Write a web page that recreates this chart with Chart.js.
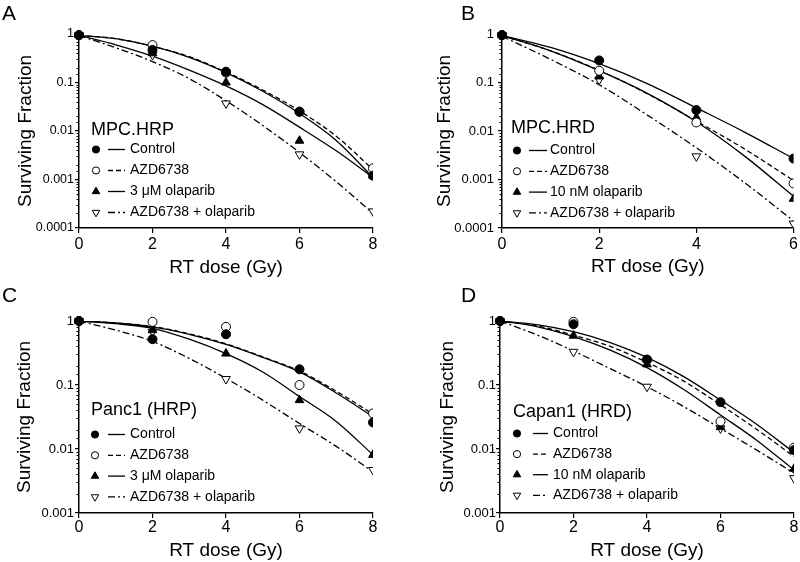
<!DOCTYPE html>
<html>
<head>
<meta charset="utf-8">
<script src="https://cdn.jsdelivr.net/npm/chart.js@4.4.1/dist/chart.umd.min.js"></script>
<style>
  html, body { margin: 0; padding: 0; background: #fff; }
  #wrap { position: relative; width: 800px; height: 562px; overflow: hidden; font-family: "Liberation Sans", Arial, sans-serif; }
  canvas { position: absolute; }
  .tag { position: absolute; font-size: 21px; line-height: 21px; color: #000; }
</style>
</head>
<body>
<div id="wrap">
  <canvas id="chartA" width="400" height="280" style="left:0;top:0"></canvas>
  <canvas id="chartB" width="400" height="280" style="left:400px;top:0"></canvas>
  <canvas id="chartC" width="400" height="282" style="left:0;top:280px"></canvas>
  <canvas id="chartD" width="400" height="282" style="left:400px;top:280px"></canvas>
  <div class="tag" style="left:2px;top:2px">A</div>
  <div class="tag" style="left:461px;top:2px">B</div>
  <div class="tag" style="left:2px;top:284px">C</div>
  <div class="tag" style="left:461px;top:284px">D</div>
</div>
<script>
// RT doses of the measured points and of the fitted curves
var dosePts = [0, 2, 4, 6, 8];
var dosePtsB = [0, 2, 4, 6];
var doseFit = [0, 1, 2, 3, 4, 5, 6, 7, 8];
var doseFitB = [0, 1, 2, 3, 4, 5, 6];

// x tick labels
var xTicks8 = [0, 2, 4, 6, 8];
var xTicks6 = [0, 2, 4, 6];

// y tick labels (decades, bottom to top)
var yLabels4 = ['0.0001', '0.001', '0.01', '0.1', '1'];
var yLabels3 = ['0.001', '0.01', '0.1', '1'];

// legend text
var namesA = ['Control', 'AZD6738', '3 \u03bcM olaparib', 'AZD6738 + olaparib'];
var namesB = ['Control', 'AZD6738', '10 nM olaparib', 'AZD6738 + olaparib'];
var namesC = ['Control', 'AZD6738', '3 \u03bcM olaparib', 'AZD6738 + olaparib'];
var namesD = ['Control', 'AZD6738', '10 nM olaparib', 'AZD6738 + olaparib'];

// A - MPC.HRP
var aCtrlPts = [0.95, 0.47, 0.167, 0.025, 0.0012];
var aAzdPts = [0.95, 0.59, 0.16, 0.025, 0.0017];
var aOlaPts = [0.95, 0.40, 0.10, 0.0063, 0.0012];
var aComboPts = [0.95, 0.37, 0.037, 0.0033, 0.00022];
var aCtrlFit = [0.94, 0.80, 0.56, 0.33, 0.16, 0.066, 0.023, 0.0064, 0.0011];
var aAzdFit = [0.94, 0.80, 0.56, 0.34, 0.165, 0.07, 0.026, 0.0078, 0.0016];
var aOlaFit = [0.94, 0.60, 0.35, 0.18, 0.085, 0.035, 0.012, 0.0039, 0.0011];
var aComboFit = [0.93, 0.52, 0.27, 0.12, 0.042, 0.013, 0.0036, 0.0009, 0.0002];

// B - MPC.HRD
var bCtrlPts = [0.95, 0.285, 0.027, 0.0027];
var bAzdPts = [0.95, 0.175, 0.015, 0.00083];
var bOlaPts = [0.95, 0.133, 0.019, 0.0004];
var bComboPts = [0.95, 0.114, 0.003, 0.000123];
var bCtrlFit = [0.93, 0.53, 0.245, 0.094, 0.03, 0.0094, 0.0027];
var bAzdFit = [0.93, 0.45, 0.178, 0.058, 0.016, 0.0042, 0.00095];
var bOlaFit = [0.93, 0.45, 0.175, 0.059, 0.0155, 0.003, 0.00045];
var bComboFit = [0.9, 0.30, 0.09, 0.021, 0.0045, 0.00085, 0.00014];

// C - Panc1 (HRP)
var cCtrlPts = [1.0, 0.52, 0.62, 0.176, 0.026];
var cAzdPts = [1.0, 0.97, 0.81, 0.10, 0.036];
var cOlaPts = [1.0, 0.72, 0.31, 0.058, 0.0081];
var cComboPts = [1.0, 0.68, 0.124, 0.021, 0.0047];
var cCtrlFit = [1.0, 0.93, 0.81, 0.62, 0.43, 0.27, 0.16, 0.075, 0.032];
var cAzdFit = [1.0, 0.93, 0.82, 0.63, 0.44, 0.275, 0.165, 0.08, 0.035];
var cOlaFit = [1.0, 0.91, 0.77, 0.52, 0.31, 0.16, 0.066, 0.027, 0.0081];
var cComboFit = [1.0, 0.72, 0.48, 0.26, 0.127, 0.058, 0.025, 0.011, 0.0044];

// D - Capan1 (HRD)
var dCtrlPts = [1.0, 0.89, 0.25, 0.054, 0.0096];
var dAzdPts = [1.0, 0.97, 0.245, 0.027, 0.0105];
var dOlaPts = [1.0, 0.59, 0.21, 0.022, 0.0049];
var dComboPts = [1.0, 0.33, 0.094, 0.021, 0.0035];
var dCtrlFit = [1.0, 0.88, 0.68, 0.46, 0.27, 0.135, 0.058, 0.024, 0.0088];
var dAzdFit = [1.0, 0.84, 0.60, 0.40, 0.226, 0.115, 0.049, 0.02, 0.0076];
var dOlaFit = [1.0, 0.82, 0.57, 0.35, 0.187, 0.085, 0.034, 0.0135, 0.0047];
var dComboFit = [1.0, 0.61, 0.34, 0.18, 0.094, 0.046, 0.021, 0.0095, 0.0042];

var FONT = '"Liberation Sans", Arial, sans-serif';
Chart.defaults.color = '#000';
Chart.defaults.font.family = FONT;

var markerStyles = [
  { pointStyle: 'circle', rotation: 0, fill: '#000', radius: 4.5 },
  { pointStyle: 'circle', rotation: 0, fill: '#fff', radius: 4.5 },
  { pointStyle: 'triangle', rotation: 0, fill: '#000', radius: 5 },
  { pointStyle: 'triangle', rotation: 180, fill: '#fff', radius: 5 }
];
var lineDashes = [[], [5, 3], [], [7, 3, 2, 3]];

function xy(xs, ys) {
  return xs.map(function (x, i) { return { x: x, y: ys[i] }; });
}

function isDecade(v) {
  var l = Math.log10(v);
  return Math.abs(l - Math.round(l)) < 1e-6;
}

// draws the little marker in the legend
function legendMarker(ctx, m, x, y) {
  ctx.save();
  ctx.fillStyle = m.fill;
  ctx.strokeStyle = '#000';
  ctx.lineWidth = 1;
  ctx.beginPath();
  if (m.pointStyle === 'circle') {
    ctx.arc(x, y, 3.6, 0, Math.PI * 2);
  } else {
    var r = 4.3, s = m.rotation === 180 ? -1 : 1;
    ctx.moveTo(x, y - s * r);
    ctx.lineTo(x + r * 0.866, y + s * r * 0.5);
    ctx.lineTo(x - r * 0.866, y + s * r * 0.5);
    ctx.closePath();
  }
  ctx.fill();
  ctx.stroke();
  ctx.restore();
}

var decorPlugin = {
  id: 'decor',
  afterDraw: function (chart, args, o) {
    var ctx = chart.ctx;
    var ys = chart.scales.y;
    var left = chart.chartArea.left;
    // minor ticks on the log axis
    ctx.save();
    ctx.strokeStyle = '#000';
    ctx.lineWidth = 1;
    ys.ticks.forEach(function (t) {
      if (isDecade(t.value)) return;
      var py = Math.round(ys.getPixelForValue(t.value)) + 0.5;
      ctx.beginPath();
      ctx.moveTo(left - 2.5, py);
      ctx.lineTo(left, py);
      ctx.stroke();
    });
    // legend block
    ctx.fillStyle = '#000';
    ctx.textBaseline = 'middle';
    ctx.textAlign = 'left';
    ctx.font = '18px ' + FONT;
    ctx.fillText(o.title, o.titleX, o.titleY);
    ctx.font = '14px ' + FONT;
    for (var i = 0; i < 4; i++) {
      var y = o.rowY + i * o.rowGap;
      var fit = chart.data.datasets[i + 4];
      ctx.beginPath();
      ctx.setLineDash(fit.borderDash);
      ctx.lineWidth = 1.3;
      ctx.moveTo(o.lineX1, y);
      ctx.lineTo(o.lineX2, y);
      ctx.stroke();
      ctx.setLineDash([]);
      legendMarker(ctx, markerStyles[i], o.markerX, y);
      ctx.fillText(o.names[i], o.textX, y);
    }
    ctx.restore();
  }
};

function makeChart(id, p) {
  var sets = [];
  for (var i = 0; i < 4; i++) {
    var m = markerStyles[i];
    sets.push({
      label: p.names[i],
      data: xy(p.dosePts, p.pts[i]),
      showLine: false,
      pointStyle: m.pointStyle,
      rotation: m.rotation,
      pointRadius: m.radius,
      pointBackgroundColor: m.fill,
      pointBorderColor: '#000',
      pointBorderWidth: 1,
      clip: { left: 10, top: 10, right: 0, bottom: 10 }
    });
  }
  for (var j = 0; j < 4; j++) {
    sets.push({
      label: p.names[j] + ' fit',
      data: xy(p.doseFit, p.fits[j]),
      showLine: true,
      pointRadius: 0,
      borderColor: '#000',
      borderWidth: 1.3,
      borderDash: lineDashes[j],
      cubicInterpolationMode: 'monotone',
      fill: false
    });
  }
  var minExp = -p.yLabels.length + 1;
  return new Chart(document.getElementById(id), {
    type: 'scatter',
    data: { datasets: sets },
    plugins: [decorPlugin],
    options: {
      responsive: false,
      animation: false,
      devicePixelRatio: 1,
      events: [],
      layout: { padding: { left: 0, top: p.padTop, right: p.padRight, bottom: 0 } },
      plugins: {
        legend: { display: false },
        tooltip: { enabled: false },
        decor: p.legend
      },
      scales: {
        x: {
          type: 'linear',
          min: 0,
          max: p.xTicks[p.xTicks.length - 1],
          afterBuildTicks: function (s) { s.ticks = p.xTicks.map(function (v) { return { value: v }; }); },
          afterFit: function (s) { s.height = p.xAxisH; },
          grid: { display: true, drawOnChartArea: false, drawTicks: true, tickLength: 5, color: '#000', lineWidth: 1.2 },
          border: { display: true, color: '#000', width: 1.5 },
          ticks: { font: { size: 16 }, padding: p.xPad, maxRotation: 0, autoSkip: false },
          title: { display: true, text: 'RT dose (Gy)', font: { size: 19 }, padding: { top: 0, bottom: p.xTitlePad } }
        },
        y: {
          type: 'logarithmic',
          min: Math.pow(10, minExp),
          max: 1,
          afterFit: function (s) { s.width = p.yAxisW; },
          grid: {
            display: true, drawOnChartArea: false, drawTicks: true, tickLength: 4, lineWidth: 1.2,
            tickColor: function (c) { return c.tick && isDecade(c.tick.value) ? '#000' : 'rgba(0,0,0,0)'; }
          },
          border: { display: true, color: '#000', width: 1.5 },
          ticks: {
            autoSkip: false,
            font: { size: p.yFont },
            padding: p.yPad,
            callback: function (v) {
              if (!isDecade(v)) return '';
              return p.yLabels[Math.round(Math.log10(v)) - minExp];
            }
          },
          title: { display: true, text: 'Surviving Fraction', font: { size: 19 }, padding: { top: p.yTitlePad, bottom: 0 } }
        }
      }
    }
  });
}

makeChart('chartA', {
  names: namesA, dosePts: dosePts, doseFit: doseFit, xTicks: xTicks8, yLabels: yLabels4,
  pts: [aCtrlPts, aAzdPts, aOlaPts, aComboPts],
  fits: [aCtrlFit, aAzdFit, aOlaFit, aComboFit],
  padTop: 34, padRight: 27, yAxisW: 79, xAxisH: 52, xPad: 2, xTitlePad: 1, yFont: 12.5, yPad: 1, yTitlePad: 14,
  legend: { title: 'MPC.HRP', names: namesA, titleX: 91, titleY: 130, rowY: 149.5, rowGap: 21, markerX: 96, lineX1: 108, lineX2: 125, textX: 130 }
});

makeChart('chartB', {
  names: namesB, dosePts: dosePtsB, doseFit: doseFitB, xTicks: xTicks6, yLabels: yLabels4,
  pts: [bCtrlPts, bAzdPts, bOlaPts, bComboPts],
  fits: [bCtrlFit, bAzdFit, bOlaFit, bComboFit],
  padTop: 34, padRight: 5, yAxisW: 102, xAxisH: 52, xPad: 2, xTitlePad: 2, yFont: 13, yPad: 4, yTitlePad: 33,
  legend: { title: 'MPC.HRD', names: namesB, titleX: 111, titleY: 128, rowY: 150.5, rowGap: 20.8, markerX: 117, lineX1: 129, lineX2: 147, textX: 150 }
});

makeChart('chartC', {
  names: namesC, dosePts: dosePts, doseFit: doseFit, xTicks: xTicks8, yLabels: yLabels3,
  pts: [cCtrlPts, cAzdPts, cOlaPts, cComboPts],
  fits: [cCtrlFit, cAzdFit, cOlaFit, cComboFit],
  padTop: 41, padRight: 27, yAxisW: 79, xAxisH: 49, xPad: 0, xTitlePad: 0, yFont: 13, yPad: 1, yTitlePad: 13,
  legend: { title: 'Panc1 (HRP)', names: namesC, titleX: 91, titleY: 130, rowY: 154.5, rowGap: 20.8, markerX: 95, lineX1: 108, lineX2: 125, textX: 130 }
});

makeChart('chartD', {
  names: namesD, dosePts: dosePts, doseFit: doseFit, xTicks: xTicks8, yLabels: yLabels3,
  pts: [dCtrlPts, dAzdPts, dOlaPts, dComboPts],
  fits: [dCtrlFit, dAzdFit, dOlaFit, dComboFit],
  padTop: 41, padRight: 4, yAxisW: 100, xAxisH: 49, xPad: 0, xTitlePad: 0, yFont: 13, yPad: 0, yTitlePad: 36,
  legend: { title: 'Capan1 (HRD)', names: namesD, titleX: 113, titleY: 132, rowY: 153.5, rowGap: 20.6, markerX: 117, lineX1: 133, lineX2: 148, textX: 153 }
});
</script>
</body>
</html>
